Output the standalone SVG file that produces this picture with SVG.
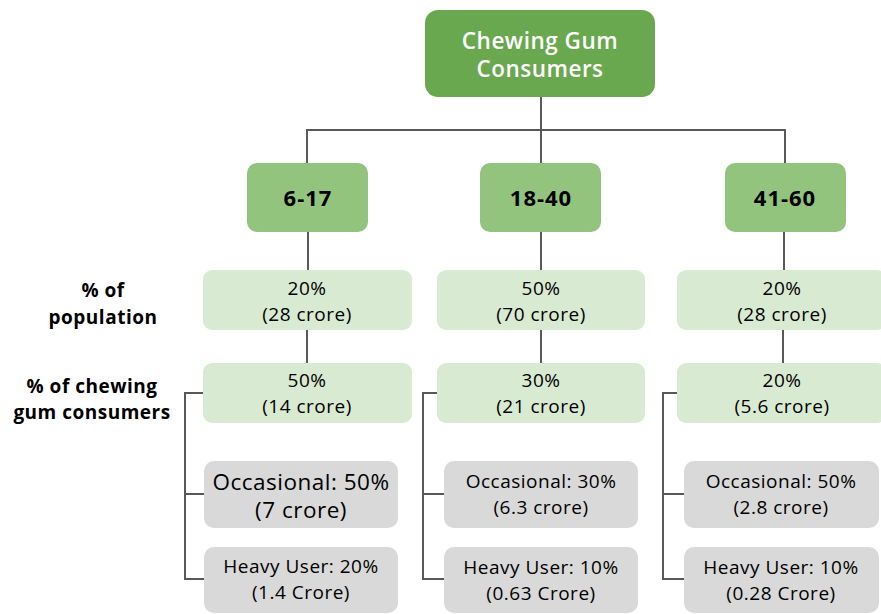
<svg xmlns="http://www.w3.org/2000/svg" width="881" height="614" viewBox="0 0 881 614">
  <style>
    text { font-family: "Open Sans", "Noto Sans", "Liberation Sans", sans-serif; text-anchor: middle; fill: #000; letter-spacing: 0.5px; }
    .root rect { fill: #6aa84f; }
    .root text { fill: #fff; font-size: 22.5px; font-weight: 600; }
    .age rect { fill: #93c47d; }
    .age text { font-size: 22px; font-weight: 700; letter-spacing: 1px; }
    .stat rect { fill: #d9ead3; }
    .stat text { font-size: 19px; }
    .seg rect { fill: #d9d9d9; }
    .seg text { font-size: 19px; }
    .seg text.big { font-size: 22.5px; }
    .label text { font-size: 19px; font-weight: 700; }
    .links path { fill: none; stroke: #595959; stroke-width: 2; }
  </style>

  <g class="links" id="connectors">
    <!-- root to age groups -->
    <path d="M541,97 V130"/>
    <path d="M307,163 V130 H785 V163"/>
    <path d="M541,130 V163"/>
    <!-- age groups to population share -->
    <path d="M308,232 V270"/>
    <path d="M541,232 V270"/>
    <path d="M784,232 V270"/>
    <!-- population share to consumer share -->
    <path d="M307,330 V363"/>
    <path d="M541,330 V363"/>
    <path d="M783,330 V363"/>
    <!-- consumer share to user types -->
    <path d="M203,393 H185 V579 H205 M185,494 H205"/>
    <path d="M437,393 H423 V579 H444 M423,494 H444"/>
    <path d="M677,393 H663 V579 H684 M663,494 H684"/>
  </g>

  <g class="label" id="label-population">
    <text x="103" y="297">% of</text>
    <text x="103" y="324">population</text>
  </g>
  <g class="label" id="label-consumers">
    <text x="92" y="393">% of chewing</text>
    <text x="92" y="419">gum consumers</text>
  </g>

  <g class="root" id="root">
    <rect x="425" y="10" width="230" height="87" rx="13"/>
    <text x="540" y="49">Chewing Gum</text>
    <text x="540" y="77">Consumers</text>
  </g>

  <g class="age" id="age-6-17">
    <rect x="247" y="163" width="121" height="69" rx="10"/>
    <text x="308" y="206">6-17</text>
  </g>
  <g class="age" id="age-18-40">
    <rect x="480" y="163" width="121" height="69" rx="10"/>
    <text x="541" y="206">18-40</text>
  </g>
  <g class="age" id="age-41-60">
    <rect x="725" y="163" width="121" height="69" rx="10"/>
    <text x="785" y="206">41-60</text>
  </g>

  <g class="stat" id="pop-6-17">
    <rect x="203" y="270" width="209" height="60" rx="9"/>
    <text x="307" y="295">20%</text>
    <text x="307" y="321">(28 crore)</text>
  </g>
  <g class="stat" id="pop-18-40">
    <rect x="437" y="270" width="208" height="60" rx="9"/>
    <text x="541" y="295">50%</text>
    <text x="541" y="321">(70 crore)</text>
  </g>
  <g class="stat" id="pop-41-60">
    <rect x="677" y="270" width="209" height="60" rx="9"/>
    <text x="782" y="295">20%</text>
    <text x="782" y="321">(28 crore)</text>
  </g>

  <g class="stat" id="cons-6-17">
    <rect x="203" y="363" width="209" height="60" rx="9"/>
    <text x="307" y="387">50%</text>
    <text x="307" y="413">(14 crore)</text>
  </g>
  <g class="stat" id="cons-18-40">
    <rect x="437" y="363" width="208" height="60" rx="9"/>
    <text x="541" y="387">30%</text>
    <text x="541" y="413">(21 crore)</text>
  </g>
  <g class="stat" id="cons-41-60">
    <rect x="677" y="363" width="209" height="60" rx="9"/>
    <text x="782" y="387">20%</text>
    <text x="782" y="413">(5.6 crore)</text>
  </g>

  <g class="seg" id="occ-6-17">
    <rect x="204" y="461" width="194" height="67" rx="10"/>
    <text class="big" x="301" y="490">Occasional: 50%</text>
    <text class="big" x="301" y="518">(7 crore)</text>
  </g>
  <g class="seg" id="heavy-6-17">
    <rect x="204" y="547" width="194" height="66" rx="10"/>
    <text x="301" y="573">Heavy User: 20%</text>
    <text x="301" y="599">(1.4 Crore)</text>
  </g>
  <g class="seg" id="occ-18-40">
    <rect x="444" y="461" width="194" height="67" rx="10"/>
    <text x="541" y="488">Occasional: 30%</text>
    <text x="541" y="514">(6.3 crore)</text>
  </g>
  <g class="seg" id="heavy-18-40">
    <rect x="444" y="547" width="194" height="66" rx="10"/>
    <text x="541" y="574">Heavy User: 10%</text>
    <text x="541" y="600">(0.63 Crore)</text>
  </g>
  <g class="seg" id="occ-41-60">
    <rect x="684" y="461" width="195" height="67" rx="10"/>
    <text x="781" y="488">Occasional: 50%</text>
    <text x="781" y="514">(2.8 crore)</text>
  </g>
  <g class="seg" id="heavy-41-60">
    <rect x="684" y="547" width="195" height="66" rx="10"/>
    <text x="781" y="574">Heavy User: 10%</text>
    <text x="781" y="600">(0.28 Crore)</text>
  </g>
</svg>
